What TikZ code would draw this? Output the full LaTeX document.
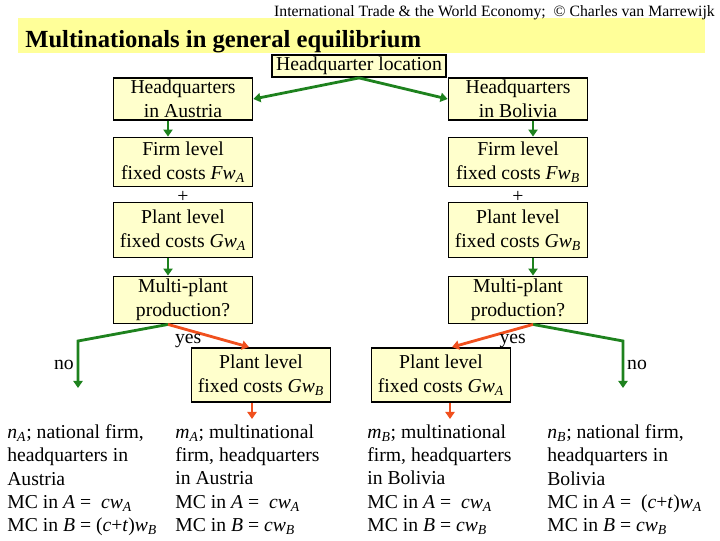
\documentclass[tikz,border=0pt]{standalone}
\usepackage{fontspec}
\setmainfont{Liberation Serif}
\usetikzlibrary{arrows.meta,calc}
\definecolor{bannerYellow}{RGB}{255,255,153}
\definecolor{boxYellow}{RGB}{255,255,204}
\definecolor{arrowGreen}{RGB}{30,130,30}
\definecolor{arrowRed}{RGB}{240,80,30}
\newcommand{\vsub}[2]{\textit{#1}\textsubscript{\textit{#2}}}
\tikzset{
  box/.style={draw=black, line width=1.3pt, fill=boxYellow, align=center,
    minimum width=3.475cm, inner sep=1pt, font=\fontsize{14}{17}\selectfont},
  txt/.style={font=\fontsize{14}{17}\selectfont, inner sep=2pt},
  block/.style={align=left, anchor=north west, inner xsep=0pt, inner ysep=4pt,
    font=\fontsize{14}{16.5}\selectfont},
  greenArrow/.style={draw=arrowGreen, line width=2pt, -{Triangle[length=5pt,width=6.5pt]}},
  redArrow/.style={draw=arrowRed, line width=2pt, -{Triangle[length=5pt,width=6.5pt]}}
}
\begin{document}
\begin{tikzpicture}[x=0.025cm, y=-0.025cm]
  \useasboundingbox (0,0) rectangle (720,540);
  % Title banner
  \fill[bannerYellow] (18,18) rectangle (705,53);
  \node[anchor=base east, inner sep=0pt, font=\fontsize{11.2}{13}\selectfont] (credit) at (715,16)
    {International Trade \& the World Economy;\ \ \textcopyright\ Charles van Marrewijk};
  \node[anchor=base west, inner sep=0pt, font=\fontsize{17.5}{20}\selectfont\bfseries] (title) at (25,47)
    {Multinationals in general equilibrium};
  % Columns of the two chains
  \coordinate (lx) at (168,0);
  \coordinate (rx) at (533,0);
  \coordinate (lr) at (252,0);
  \coordinate (rr) at (450,0);
  % Headquarter choice
  \node[box, minimum width=4.35cm, minimum height=0.55cm] (hq) at (359,66) {Headquarter location};
  \node[box, minimum height=1.05cm] (hqA) at (183,99) {Headquarters\\in Austria};
  \node[box, minimum height=1.05cm] (hqB) at (518,99) {Headquarters\\in Bolivia};
  % Fixed costs
  \node[box, minimum height=1.225cm] (firmA) at (183,162) {Firm level\\fixed costs \vsub{Fw}{A}};
  \node[txt] (plusA) at (183,197) {+};
  \node[box, minimum height=1.375cm] (plantA) at (183,230) {Plant level\\fixed costs \vsub{Gw}{A}};
  \node[box, minimum height=1.225cm] (firmB) at (518,162) {Firm level\\fixed costs \vsub{Fw}{B}};
  \node[txt] (plusB) at (518,197) {+};
  \node[box, minimum height=1.375cm] (plantB) at (518,230) {Plant level\\fixed costs \vsub{Gw}{B}};
  % Multi-plant question
  \node[box, minimum height=1.175cm] (mpA) at (183,300) {Multi-plant\\production?};
  \node[box, minimum height=1.175cm] (mpB) at (518,300) {Multi-plant\\production?};
  \node[box, minimum height=1.35cm] (pGB) at (261,375) {Plant level\\fixed costs \vsub{Gw}{B}};
  \node[box, minimum height=1.35cm] (pGA) at (441,375) {Plant level\\fixed costs \vsub{Gw}{A}};
  % Firm types
  \node[block] (nA) at (7,419) {\vsub{n}{A}; national firm,\\headquarters in\\Austria\\
    MC in \textit{A} = \ \vsub{cw}{A}\\MC in \textit{B} = (\textit{c}+\textit{t})\vsub{w}{B}};
  \node[block] (mA) at (175,419) {\vsub{m}{A}; multinational\\firm, headquarters\\in Austria\\
    MC in \textit{A} = \ \vsub{cw}{A}\\MC in \textit{B} = \vsub{cw}{B}};
  \node[block] (mB) at (367,419) {\vsub{m}{B}; multinational\\firm, headquarters\\in Bolivia\\
    MC in \textit{A} = \ \vsub{cw}{A}\\MC in \textit{B} = \vsub{cw}{B}};
  \node[block] (nB) at (547,419) {\vsub{n}{B}; national firm,\\headquarters in\\Bolivia\\
    MC in \textit{A} = \ (\textit{c}+\textit{t})\vsub{w}{A}\\MC in \textit{B} = \vsub{cw}{B}};
  % Green arrows
  \draw[greenArrow] (hq.south) -- (hqA.east);
  \draw[greenArrow] (hq.south) -- (hqB.west);
  \draw[greenArrow] (hqA.south -| lx) -- (firmA.north -| lx);
  \draw[greenArrow] (plantA.south -| lx) -- (mpA.north -| lx);
  \draw[greenArrow] (hqB.south -| rx) -- (firmB.north -| rx);
  \draw[greenArrow] (plantB.south -| rx) -- (mpB.north -| rx);
  % No branches
  \coordinate (kneeA) at (78,341);
  \coordinate (noA) at (78,388);
  \coordinate (kneeB) at (623,341);
  \coordinate (noB) at (623,388);
  \draw[greenArrow] (mpA.south -| lx) -- (kneeA) -- node[left, txt] {no} (noA);
  \draw[greenArrow] (mpB.south -| rx) -- (kneeB) -- node[right, txt] {no} (noB);
  % Yes branches
  \draw[redArrow] (mpA.south -| lx) -- node[pos=0.25, below, txt] {yes} ($(pGB.north)+(-12,0)$);
  \draw[redArrow] (mpB.south -| rx) -- node[pos=0.25, below, txt] {yes} ($(pGA.north)+(11,0)$);
  \draw[redArrow] (pGB.south -| lr) -- (mA.north -| lr);
  \draw[redArrow] (pGA.south -| rr) -- (mB.north -| rr);
\end{tikzpicture}
\end{document}
